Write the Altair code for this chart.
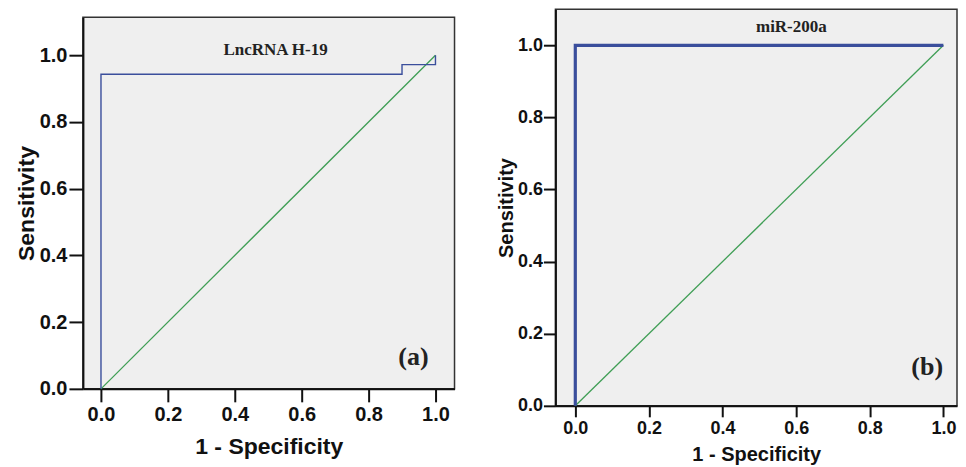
import altair as alt
import pandas as pd

# ---- data ----
# Panel (a) LncRNA H-19 ROC curve vertices (1 - specificity, sensitivity)
a_fpr = [0.0, 0.0, 0.9, 0.9, 1.0, 1.0]
a_tpr = [0.0, 0.943, 0.943, 0.972, 0.972, 1.0]
# Panel (b) miR-200a ROC curve vertices
b_fpr = [0.0, 0.0, 1.0]
b_tpr = [0.0, 1.0, 1.0]
# reference diagonal
diag_x = [0.0, 1.0]
diag_y = [0.0, 1.0]
ticks = [0.0, 0.2, 0.4, 0.6, 0.8, 1.0]

BLUE = "#3a4e9c"
GREEN = "#3f9e55"
SANS = "Liberation Sans"
SERIF = "Liberation Serif"


def roc_df(xs, ys):
    return pd.DataFrame({"x": xs, "y": ys, "i": list(range(len(xs)))})


def panel(fpr, tpr, name, tag, xdom, ydom, w, h, lab_size, title_size,
          xtick, ytick, roc_width, name_pos, tag_pos, xlab_pad, xtitle_pad,
          ylab_pad, ytitle_pad, name_size, tag_size):
    xs = alt.Scale(domain=xdom, nice=False, zero=False)
    ys = alt.Scale(domain=ydom, nice=False, zero=False)
    xax = alt.Axis(values=ticks, format=".1f", title="1 - Specificity",
                   labelFontSize=lab_size, titleFontSize=title_size,
                   tickSize=xtick, labelPadding=xlab_pad,
                   titlePadding=xtitle_pad)
    yax = alt.Axis(values=ticks, format=".1f", title="Sensitivity",
                   labelFontSize=lab_size, titleFontSize=title_size,
                   tickSize=ytick, labelPadding=ylab_pad,
                   titlePadding=ytitle_pad)
    diag = alt.Chart(roc_df(diag_x, diag_y)).mark_line(
        color=GREEN, strokeWidth=1.3).encode(
        x=alt.X("x:Q", scale=xs, axis=xax),
        y=alt.Y("y:Q", scale=ys, axis=yax),
        order="i:Q")
    roc = alt.Chart(roc_df(fpr, tpr)).mark_line(
        color=BLUE, strokeWidth=roc_width).encode(
        x=alt.X("x:Q", scale=xs), y=alt.Y("y:Q", scale=ys), order="i:Q")
    nm = alt.Chart(pd.DataFrame({"t": [name]})).mark_text(
        font=SERIF, fontWeight="bold", fontSize=name_size, color="#222",
        baseline="middle").encode(
        x=alt.datum(name_pos[0], scale=xs), y=alt.datum(name_pos[1], scale=ys),
        text="t:N")
    tg = alt.Chart(pd.DataFrame({"t": [tag]})).mark_text(
        font=SERIF, fontWeight="bold", fontSize=tag_size, color="#222",
        baseline="middle").encode(
        x=alt.datum(tag_pos[0], scale=xs), y=alt.datum(tag_pos[1], scale=ys),
        text="t:N")
    return alt.layer(diag, roc, nm, tg).properties(width=w, height=h)


left = panel(a_fpr, a_tpr, "LncRNA H-19", "(a)",
             [-0.054, 1.057], [0.0, 1.114], 372, 372,
             20, 23, 13, 14, 1.4, (0.522, 1.015), (0.934, 0.096),
             3, 11, 2, 1, 17, 26)

right = panel(b_fpr, b_tpr, "miR-200a", "(b)",
              [-0.054, 1.037], [0.0, 1.1], 402, 397,
              18, 20, 11, 12, 3.2, (0.587, 1.05), (0.956, 0.107),
              3, 7, 1, 1, 17, 26)

# invisible spacer that lowers panel (a) relative to panel (b)
spacer = alt.Chart(pd.DataFrame({"s": [0]})).mark_point(
    opacity=0, size=0, strokeWidth=0).encode(
    x=alt.value(0), y=alt.value(0)
).properties(width=1, height=1,
             view=alt.ViewBackground(fill="transparent", stroke="transparent",
                                     strokeWidth=0))

left_col = alt.vconcat(spacer, left, spacing=6)

chart = alt.hconcat(left_col, right, spacing=40).properties(
    padding={"left": 6, "top": 0, "right": 0, "bottom": 0}
).configure_view(
    fill="#efefef", stroke="#333333", strokeWidth=1.5
).configure_axis(
    labelFont=SANS, labelFontWeight="bold", labelColor="#111",
    titleFont=SANS, titleFontWeight="bold", titleColor="#111",
    domainColor="#111", domainWidth=2, tickColor="#111", tickWidth=2,
    grid=False
)

chart.save("out.html", embed_options={"renderer": "svg", "actions": False})
